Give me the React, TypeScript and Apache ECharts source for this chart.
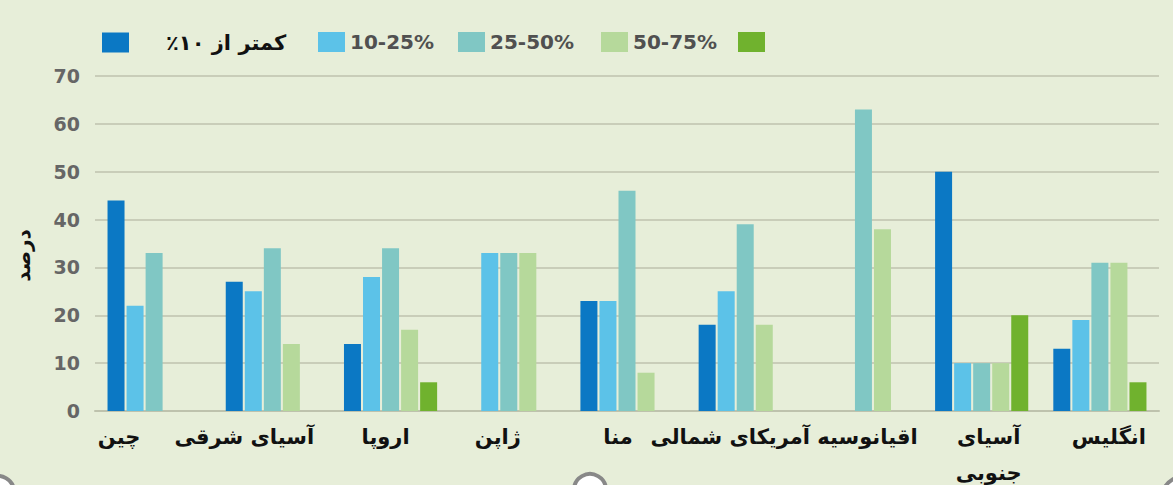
import React, { useEffect, useRef } from "react";
import * as echarts from "echarts";

const categories = ["چین", "آسیای شرقی", "اروپا", "ژاپن", "منا", "آمریکای شمالی", "اقیانوسیه", "آسیای\nجنوبی", "انگلیس"];
const seriesNames = ["کمتر از ۱۰٪", "10-25%", "25-50%", "50-75%", "75-100%"];
const under10 = [44, 27, 14, null, 23, 18, null, 50, 13];
const from10to25 = [22, 25, 28, 33, 23, 25, null, 10, 19];
const from25to50 = [33, 34, 34, 33, 46, 39, 63, 10, 31];
const from50to75 = [null, 14, 17, 33, 8, 18, 38, 10, 31];
const from75to100 = [null, null, 6, null, null, null, null, 20, 6];
const yTicks = [0, 10, 20, 30, 40, 50, 60, 70];
const yAxisTitle = "درصد";

const colors = ["#0b78c4", "#5cc2e8", "#80c7c4", "#b6d99b", "#70b22e"];
const labelShift = [-35, -28, -5, -11, -9, -15, 4, 7, 9];
const legendLeft = [102, 318, 458, 601, 738];

const RLM = "\u200F";

export default function App() {
  const ref = useRef<HTMLDivElement>(null);
  useEffect(() => {
    document.body.style.margin = "0";
    if (!ref.current) return;
    const chart = echarts.init(ref.current, undefined, { renderer: "svg" });
    const allData = [under10, from10to25, from25to50, from50to75, from75to100];
    const rich: Record<string, any> = {};
    labelShift.forEach((d, i) => {
      rich["s" + i] = {
        fontFamily: "DejaVu Sans",
        fontWeight: "bold",
        fontSize: 21,
        color: "#111",
        lineHeight: 36,
        padding: d >= 0 ? [0, 0, 0, 2 * d] : [0, -2 * d, 0, 0],
      };
    });
    const font = "DejaVu Sans";
    chart.setOption({
      animation: false,
      backgroundColor: "#e7eed9",
      graphic: [
        { type: "circle", shape: { cx: -2, cy: 492, r: 16 }, style: { fill: "#ffffff", stroke: "#888888", lineWidth: 4 } },
        { type: "circle", shape: { cx: 590, cy: 490, r: 16 }, style: { fill: "#ffffff", stroke: "#888888", lineWidth: 4 } },
        { type: "circle", shape: { cx: 1185, cy: 500, r: 24 }, style: { fill: "#ffffff", stroke: "#888888", lineWidth: 4 } },
      ],
      legend: seriesNames.map((n, i) => ({
        data: [n],
        left: legendLeft[i],
        top: 32,
        padding: 0,
        itemWidth: 27,
        itemHeight: 20,
        icon: "rect",
        formatter: (name: string) => (i === 0 ? `{fa|${RLM}${name}${RLM}}` : i === 4 ? "" : name),
        textStyle: {
          fontFamily: font,
          fontWeight: "bold",
          fontSize: 20,
          color: "#505050",
          rich: {
            fa: { fontFamily: font, fontWeight: "bold", fontSize: 21, color: "#111", padding: [0, 0, 0, 32] },
          },
        },
      })),
      grid: { left: 95, right: 14, top: 76, bottom: 74, containLabel: false },
      xAxis: {
        type: "category",
        data: categories,
        axisLine: { lineStyle: { color: "#bec2ad", width: 2 } },
        axisTick: { show: false },
        axisLabel: {
          interval: 0,
          margin: 8,
          formatter: (v: string, idx: number) =>
            v.split("\n").map((p) => `{s${idx}|${p}}`).join("\n"),
          rich,
        },
      },
      yAxis: {
        type: "value",
        min: yTicks[0],
        max: yTicks[yTicks.length - 1],
        interval: 10,
        name: yAxisTitle,
        nameLocation: "middle",
        nameGap: 62,
        nameRotate: 90,
        nameTextStyle: { fontFamily: font, fontWeight: "bold", fontSize: 20, color: "#111", padding: [0, 24, 0, 0] },
        axisLine: { show: false },
        axisTick: { show: false },
        axisLabel: { margin: 15, fontFamily: font, fontWeight: "bold", fontSize: 19, color: "#666666" },
        splitLine: { lineStyle: { color: "#c9cdb9", width: 2 } },
      },
      series: seriesNames.map((n, i) => ({
        name: n,
        type: "bar",
        data: allData[i],
        barWidth: 17,
        barGap: "12%",
        itemStyle: { color: colors[i] },
      })),
    });
    return () => chart.dispose();
  }, []);
  return <div ref={ref} style={{ width: 1173, height: 485 }} />;
}
